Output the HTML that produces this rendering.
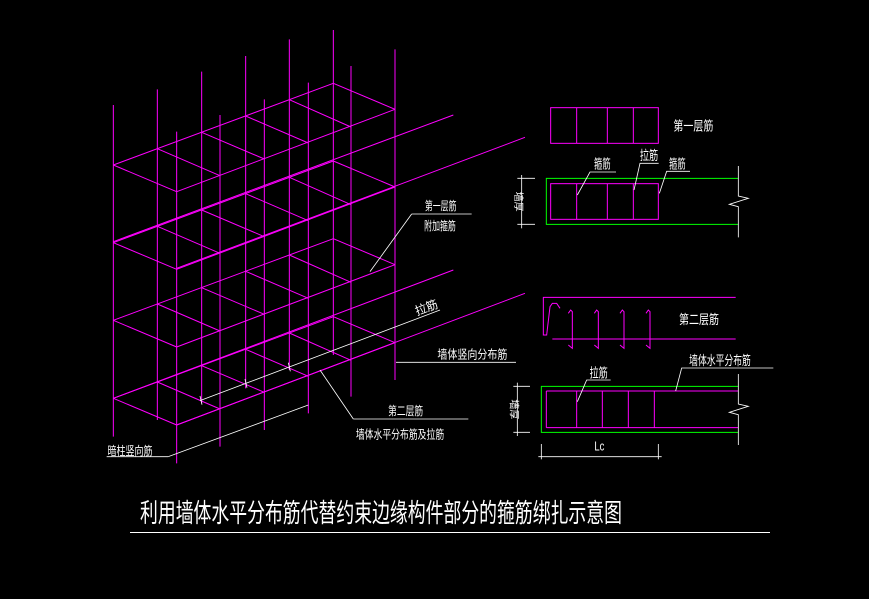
<!DOCTYPE html>
<html><head><meta charset="utf-8"><style>
html,body{margin:0;padding:0;background:#000;width:869px;height:599px;overflow:hidden}
svg{display:block}
text{font-family:"Liberation Sans","Noto Sans CJK SC","WenQuanYi Zen Hei",sans-serif;fill:#fff}
</style></head><body>
<svg width="869" height="599" viewBox="0 0 869 599" xmlns="http://www.w3.org/2000/svg">
<rect width="869" height="599" fill="#000"/>
<!-- left isometric cage, zoom coords -->
<g transform="translate(100,30) scale(0.33333)" fill="none" stroke-width="3">
 <g stroke="#ff00ff">
  <!-- verticals back -->
  <line x1="40" y1="225" x2="40" y2="1220"/>
  <line x1="172" y1="178" x2="172" y2="1170"/>
  <line x1="305" y1="125" x2="305" y2="1120"/>
  <line x1="437" y1="78" x2="437" y2="1075"/>
  <line x1="568" y1="28" x2="568" y2="1020"/>
  <line x1="700" y1="0" x2="700" y2="975"/>
  <!-- verticals front -->
  <line x1="230" y1="305" x2="230" y2="1300"/>
  <line x1="360" y1="255" x2="360" y2="1250"/>
  <line x1="493" y1="208" x2="493" y2="1200"/>
  <line x1="625" y1="158" x2="625" y2="1150"/>
  <line x1="753" y1="108" x2="753" y2="1100"/>
  <line x1="885" y1="58" x2="885" y2="1050"/>
  <!-- level 1 (top) -->
  <g id="lvl">
   <line x1="40" y1="405" x2="700" y2="160"/>
   <line x1="230" y1="485" x2="885" y2="238"/>
   <line x1="40" y1="405" x2="230" y2="485"/>
   <line x1="172" y1="356" x2="360" y2="437"/>
   <line x1="305" y1="307" x2="493" y2="387"/>
   <line x1="437" y1="258" x2="625" y2="339"/>
   <line x1="568" y1="209" x2="753" y2="291"/>
   <line x1="700" y1="160" x2="885" y2="238"/>
  </g>
  <use href="#lvl" transform="translate(0,466)"/>
  <use href="#lvl" transform="translate(0,233)"/>
  <use href="#lvl" transform="translate(0,700)"/>
  <!-- long beams level 2 and 4 -->
  <line x1="40" y1="635" x2="1060" y2="255"/>
  <line x1="230" y1="715" x2="1275" y2="322"/>
  <line x1="40" y1="1105" x2="1060" y2="720"/>
  <line x1="230" y1="1185" x2="1275" y2="790"/>
 </g>
 <g stroke="#fff" stroke-width="2.5">
  <line x1="935" y1="552" x2="1115" y2="552"/>
  <line x1="935" y1="552" x2="810" y2="725"/>
  <line x1="1020" y1="840" x2="300" y2="1112"/>
  <line x1="300" y1="1098" x2="306" y2="1124"/>
  <line x1="435" y1="1047" x2="441" y2="1073"/>
  <line x1="565" y1="998" x2="571" y2="1024"/>
  <line x1="888" y1="997" x2="1248" y2="997"/>
  <line x1="760" y1="1167" x2="1105" y2="1167"/>
  <line x1="760" y1="1167" x2="660" y2="1020"/>
  <line x1="20" y1="1280" x2="205" y2="1280"/>
  <line x1="205" y1="1280" x2="625" y2="1125"/>
 </g>
 <g font-size="36" stroke="none" text-anchor="middle">
  <text x="1022" y="540" textLength="95" lengthAdjust="spacingAndGlyphs">第一层筋</text>
  <text x="1020" y="600" textLength="95" lengthAdjust="spacingAndGlyphs">附加箍筋</text>
  <text x="980" y="845" textLength="70" lengthAdjust="spacingAndGlyphs" transform="rotate(-20 980 835)">拉筋</text>
  <text x="1117" y="985" textLength="210" lengthAdjust="spacingAndGlyphs">墙体竖向分布筋</text>
  <text x="917" y="1155" textLength="105" lengthAdjust="spacingAndGlyphs">第二层筋</text>
  <text x="900" y="1225" textLength="265" lengthAdjust="spacingAndGlyphs">墙体水平分布筋及拉筋</text>
  <text x="90" y="1275" textLength="135" lengthAdjust="spacingAndGlyphs">暗柱竖向筋</text>
 </g>
</g>
<!-- right details -->
<g transform="translate(500,90) scale(0.33333)" fill="none" stroke-width="3">
 <g stroke="#ff00ff">
  <rect x="152" y="53" width="323" height="107"/>
  <line x1="230" y1="53" x2="230" y2="160"/><line x1="322" y1="53" x2="322" y2="160"/><line x1="400" y1="53" x2="400" y2="160"/>
  <rect x="152" y="281" width="323" height="107"/>
  <line x1="230" y1="281" x2="230" y2="388"/><line x1="322" y1="281" x2="322" y2="388"/><line x1="400" y1="281" x2="400" y2="388"/>
  <polyline points="707,622 130,622 130,735 140,735 150,650 157,640 170,640 180,655"/>
  <line x1="157" y1="747" x2="707" y2="747"/>
  <path d="M205 670 L212 660 L217 665 L217 775 L205 765"/>
  <path d="M283 670 L290 660 L295 665 L295 775 L283 765"/>
  <path d="M360 670 L367 660 L372 665 L372 775 L360 765"/>
  <path d="M438 670 L445 660 L450 665 L450 775 L438 765"/>
  <line x1="139" y1="903" x2="715" y2="903"/><line x1="139" y1="1013" x2="715" y2="1013"/>
  <line x1="139" y1="903" x2="139" y2="1013"/><line x1="230" y1="903" x2="230" y2="1013"/>
  <line x1="307" y1="903" x2="307" y2="1013"/><line x1="385" y1="903" x2="385" y2="1013"/>
  <line x1="463" y1="903" x2="463" y2="1013"/>
 </g>
 <g stroke="#00ff00">
  <polyline points="715,265 139,265 139,403 715,403"/>
  <polyline points="715,889 124,889 124,1027 715,1027"/>
 </g>
 <g stroke="#fff" stroke-width="2.5">
  <polyline points="715,228 715,318 745,325 688,343 715,350 715,442"/>
  <polyline points="715,852 715,942 745,949 688,967 715,974 715,1065"/>
  <line x1="65" y1="255" x2="65" y2="415"/><line x1="52" y1="265" x2="105" y2="265"/><line x1="52" y1="403" x2="105" y2="403"/>
  <line x1="52" y1="878" x2="52" y2="1038"/><line x1="40" y1="889" x2="90" y2="889"/><line x1="40" y1="1027" x2="90" y2="1027"/>
  <line x1="115" y1="1100" x2="485" y2="1100"/><line x1="124" y1="1062" x2="124" y2="1108"/><line x1="475" y1="1062" x2="475" y2="1108"/>
  <polyline points="348,246 270,246 232,315"/>
  <polyline points="476,220 420,220 402,300"/>
  <polyline points="570,244 500,244 478,310"/>
  <polyline points="820,834 545,834 527,903"/>
  <polyline points="332,870 260,870 232,935"/>
 </g>
 <g font-size="40" stroke="none" text-anchor="middle">
  <text x="580" y="122" textLength="120" lengthAdjust="spacingAndGlyphs">第一层筋</text>
  <text x="307" y="235" textLength="50" lengthAdjust="spacingAndGlyphs">箍筋</text>
  <text x="447" y="210" textLength="55" lengthAdjust="spacingAndGlyphs">拉筋</text>
  <text x="532" y="235" textLength="50" lengthAdjust="spacingAndGlyphs">箍筋</text>
  <text x="597" y="702" textLength="120" lengthAdjust="spacingAndGlyphs">第二层筋</text>
  <text x="660" y="825" textLength="185" lengthAdjust="spacingAndGlyphs">墙体水平分布筋</text>
  <text x="296" y="862" textLength="55" lengthAdjust="spacingAndGlyphs">拉筋</text>
  <text x="298" y="1082" textLength="30" lengthAdjust="spacingAndGlyphs">Lc</text>
  <text x="0" y="0" font-size="30" transform="translate(45,335) rotate(90)">墙厚</text>
  <text x="0" y="0" font-size="30" transform="translate(32,958) rotate(90)">墙厚</text>
 </g>
</g>
<!-- title -->
<text x="140" y="522" font-size="26" textLength="482" lengthAdjust="spacingAndGlyphs">利用墙体水平分布筋代替约束边缘构件部分的箍筋绑扎示意图</text>
<line x1="130" y1="532.5" x2="770" y2="532.5" stroke="#fff" stroke-width="1"/>
</svg>
</body></html>
